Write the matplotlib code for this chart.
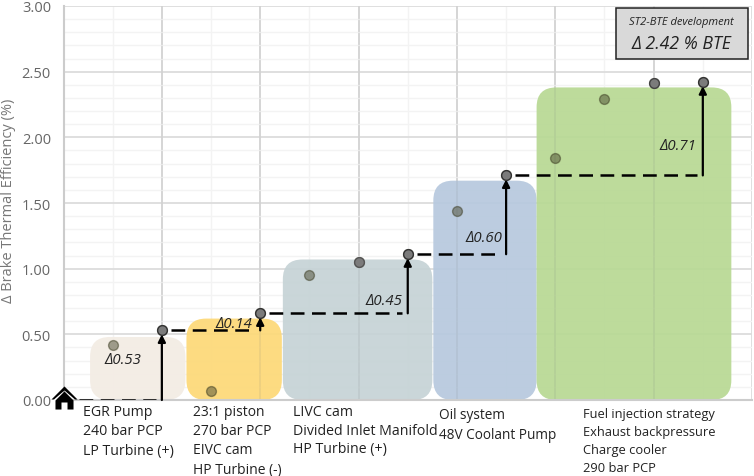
import matplotlib
matplotlib.use("Agg")
import matplotlib.pyplot as plt
from matplotlib.patches import FancyBboxPatch
from matplotlib.path import Path
from matplotlib.ticker import MultipleLocator

plt.rcParams['font.family'] = ['Open Sans', 'DejaVu Sans']

# scatter points
x_vals = [0.5, 1, 1.5, 2, 2.5, 3, 3.5, 4, 4.5, 5, 5.5, 6, 6.5]
y_vals = [0.42, 0.53, 0.07, 0.66, 0.95, 1.05, 1.11, 1.44, 1.71, 1.84, 2.29, 2.41, 2.42]

# coloured groups
box_left = [0.27, 1.25, 2.23, 3.76, 4.81]
box_right = [1.24, 2.22, 3.75, 4.81, 6.79]
box_top = [0.48, 0.62, 1.07, 1.67, 2.38]
box_colors = ['#f3ece4', '#fdd978', '#c6d3d6', '#b7c9de', '#b8d994']

# steps (start x, end x, level before, level after)
step_x0 = [0.0, 1.0, 2.0, 3.5, 4.5]
step_x1 = [1.0, 2.0, 3.5, 4.5, 6.5]
step_y0 = [0.0, 0.53, 0.66, 1.11, 1.71]
step_y1 = [0.53, 0.66, 1.11, 1.71, 2.42]

delta_labels = ['Δ0.53', 'Δ0.14', 'Δ0.45', 'Δ0.60', 'Δ0.71']
delta_x = [0.60, 1.735, 3.26, 4.27, 6.25]
delta_y = [0.31, 0.58, 0.755, 1.24, 1.94]

group_labels = [
    'EGR Pump\n240 bar PCP\nLP Turbine (+)',
    '23:1 piston\n270 bar PCP\nEIVC cam\nHP Turbine (-)',
    'LIVC cam\nDivided Inlet Manifold\nHP Turbine (+)',
    'Oil system\n48V Coolant Pump',
    'Fuel injection strategy\nExhaust backpressure\nCharge cooler\n290 bar PCP',
]
group_px_x = [83, 193, 293, 439, 583]
group_px_y = [405, 405, 405, 408, 408]
group_size = [10.2, 10.0, 10.2, 9.8, 9.3]
group_space = [1.4, 1.38, 1.33, 1.45, 1.5]

W, H = 754, 477
fig = plt.figure(figsize=(W / 100, H / 100), dpi=100)
ax = fig.add_axes([63.5 / W, 1 - 401 / H, 688.5 / W, 394 / H])
ax.set_xlim(0, 7)
ax.set_ylim(0, 3)
ax.xaxis.set_major_locator(MultipleLocator(1))
ax.xaxis.set_minor_locator(MultipleLocator(0.5))
ax.yaxis.set_major_locator(MultipleLocator(0.5))
ax.yaxis.set_minor_locator(MultipleLocator(0.1))
ax.grid(which='major', color='#dcdcdc', lw=1.3)
ax.grid(which='minor', color='#f3f3f3', lw=1.0)
ax.set_axisbelow(True)
ax.tick_params(which='both', length=0)
ax.tick_params(axis='x', labelbottom=False)
ax.tick_params(axis='y', labelsize=10.5, labelcolor='#666666', pad=9)
ax.yaxis.set_major_formatter(lambda v, pos: f'{v:.2f}')
for s in ['top', 'right']:
    ax.spines[s].set_visible(False)
for s in ['left', 'bottom']:
    ax.spines[s].set_color('#cccccc')
    ax.spines[s].set_linewidth(1.5)

# rounded boxes, corners need the aspect fix
for l, r, t, c in zip(box_left, box_right, box_top, box_colors):
    ax.add_patch(FancyBboxPatch((l, 0), r - l, t, boxstyle='round,pad=0,rounding_size=0.2',
                                mutation_aspect=0.75, fc=c, ec='none', alpha=0.93, zorder=1.5))
# grid shows through the boxes a little
for v in [1, 2, 3, 4, 5, 6]:
    ax.axvline(v, color='#888888', alpha=0.12, lw=1.2, zorder=1.6)

for i, (x0, x1, y0, y1) in enumerate(zip(step_x0, step_x1, step_y0, step_y1)):
    start = x0 + (0.16 if i == 0 else 0.09)
    ax.plot([start, x1 - 0.06], [y0, y0], color='black', lw=1.8, dashes=(5.5, 3), zorder=3)
    ax.annotate('', xy=(x1, y1 - 0.03), xytext=(x1, y0),
                arrowprops=dict(arrowstyle='-|>', color='black', lw=1.6, mutation_scale=11,
                                shrinkA=0, shrinkB=0), zorder=3)

# translucent points pick up the box colour behind them
ax.scatter(x_vals, y_vals, s=50, facecolor='#4a4a30', edgecolor='#3a3a20', alpha=0.5, lw=1, zorder=4)
for x, y in zip(step_x1, step_y1):
    ax.plot(x, y, 'o', ms=7, mfc='#7b7b7b', mec='#333333', mew=1, zorder=5)
ax.plot(3, 1.05, 'o', ms=7, mfc='#7b7b7b', mec='#555555', mew=1, zorder=5)
ax.plot(6, 2.41, 'o', ms=7, mfc='#7b7b7b', mec='#444444', mew=1, zorder=5)

for lab, x, y in zip(delta_labels, delta_x, delta_y):
    ax.text(x, y, lab, fontsize=10.8, style='italic', color='#222222', ha='center', va='center', zorder=6)

for lab, px, py, fs, sp in zip(group_labels, group_px_x, group_px_y, group_size, group_space):
    fig.text(px / W, 1 - py / H, lab, fontsize=fs, color='#222222', ha='left', va='top', linespacing=sp)

fig.text(9 / W, 1 - 201 / H, 'Δ Brake Thermal Efficiency (%)', rotation=90, fontsize=10.5,
         color='#777777', ha='center', va='center')

# home marker at the origin
house = Path([(-13, 1), (0, 14), (13, 1), (10.5, 1), (0, 10), (-10.5, 1), (-13, 1),
              (-9, 0), (0, 9), (9, 0), (9, -9), (3, -9), (3, -2), (-3, -2), (-3, -9), (-9, -9), (-9, 0)],
             [1, 2, 2, 2, 2, 2, 79, 1, 2, 2, 2, 2, 2, 2, 2, 2, 79])
ax.plot(0, 0, marker=house, ms=20.2, mfc='black', mec='none', clip_on=False, zorder=7)

# summary box
ax.add_patch(plt.Rectangle((616 / W, 1 - 60 / H), 132 / W, 51 / H, transform=fig.transFigure,
                           fc='#d9d9d9', ec='#222222', lw=1.1, zorder=8, clip_on=False))
fig.text(681 / W, 1 - 23 / H, 'ST2-BTE development', fontsize=8, style='italic', color='#222222',
         ha='center', va='center', zorder=9)
fig.text(681 / W, 1 - 44 / H, 'Δ 2.42 % BTE', fontsize=12.7, style='italic', color='#222222',
         ha='center', va='center', zorder=9)

fig.savefig('out.png', dpi=100)
